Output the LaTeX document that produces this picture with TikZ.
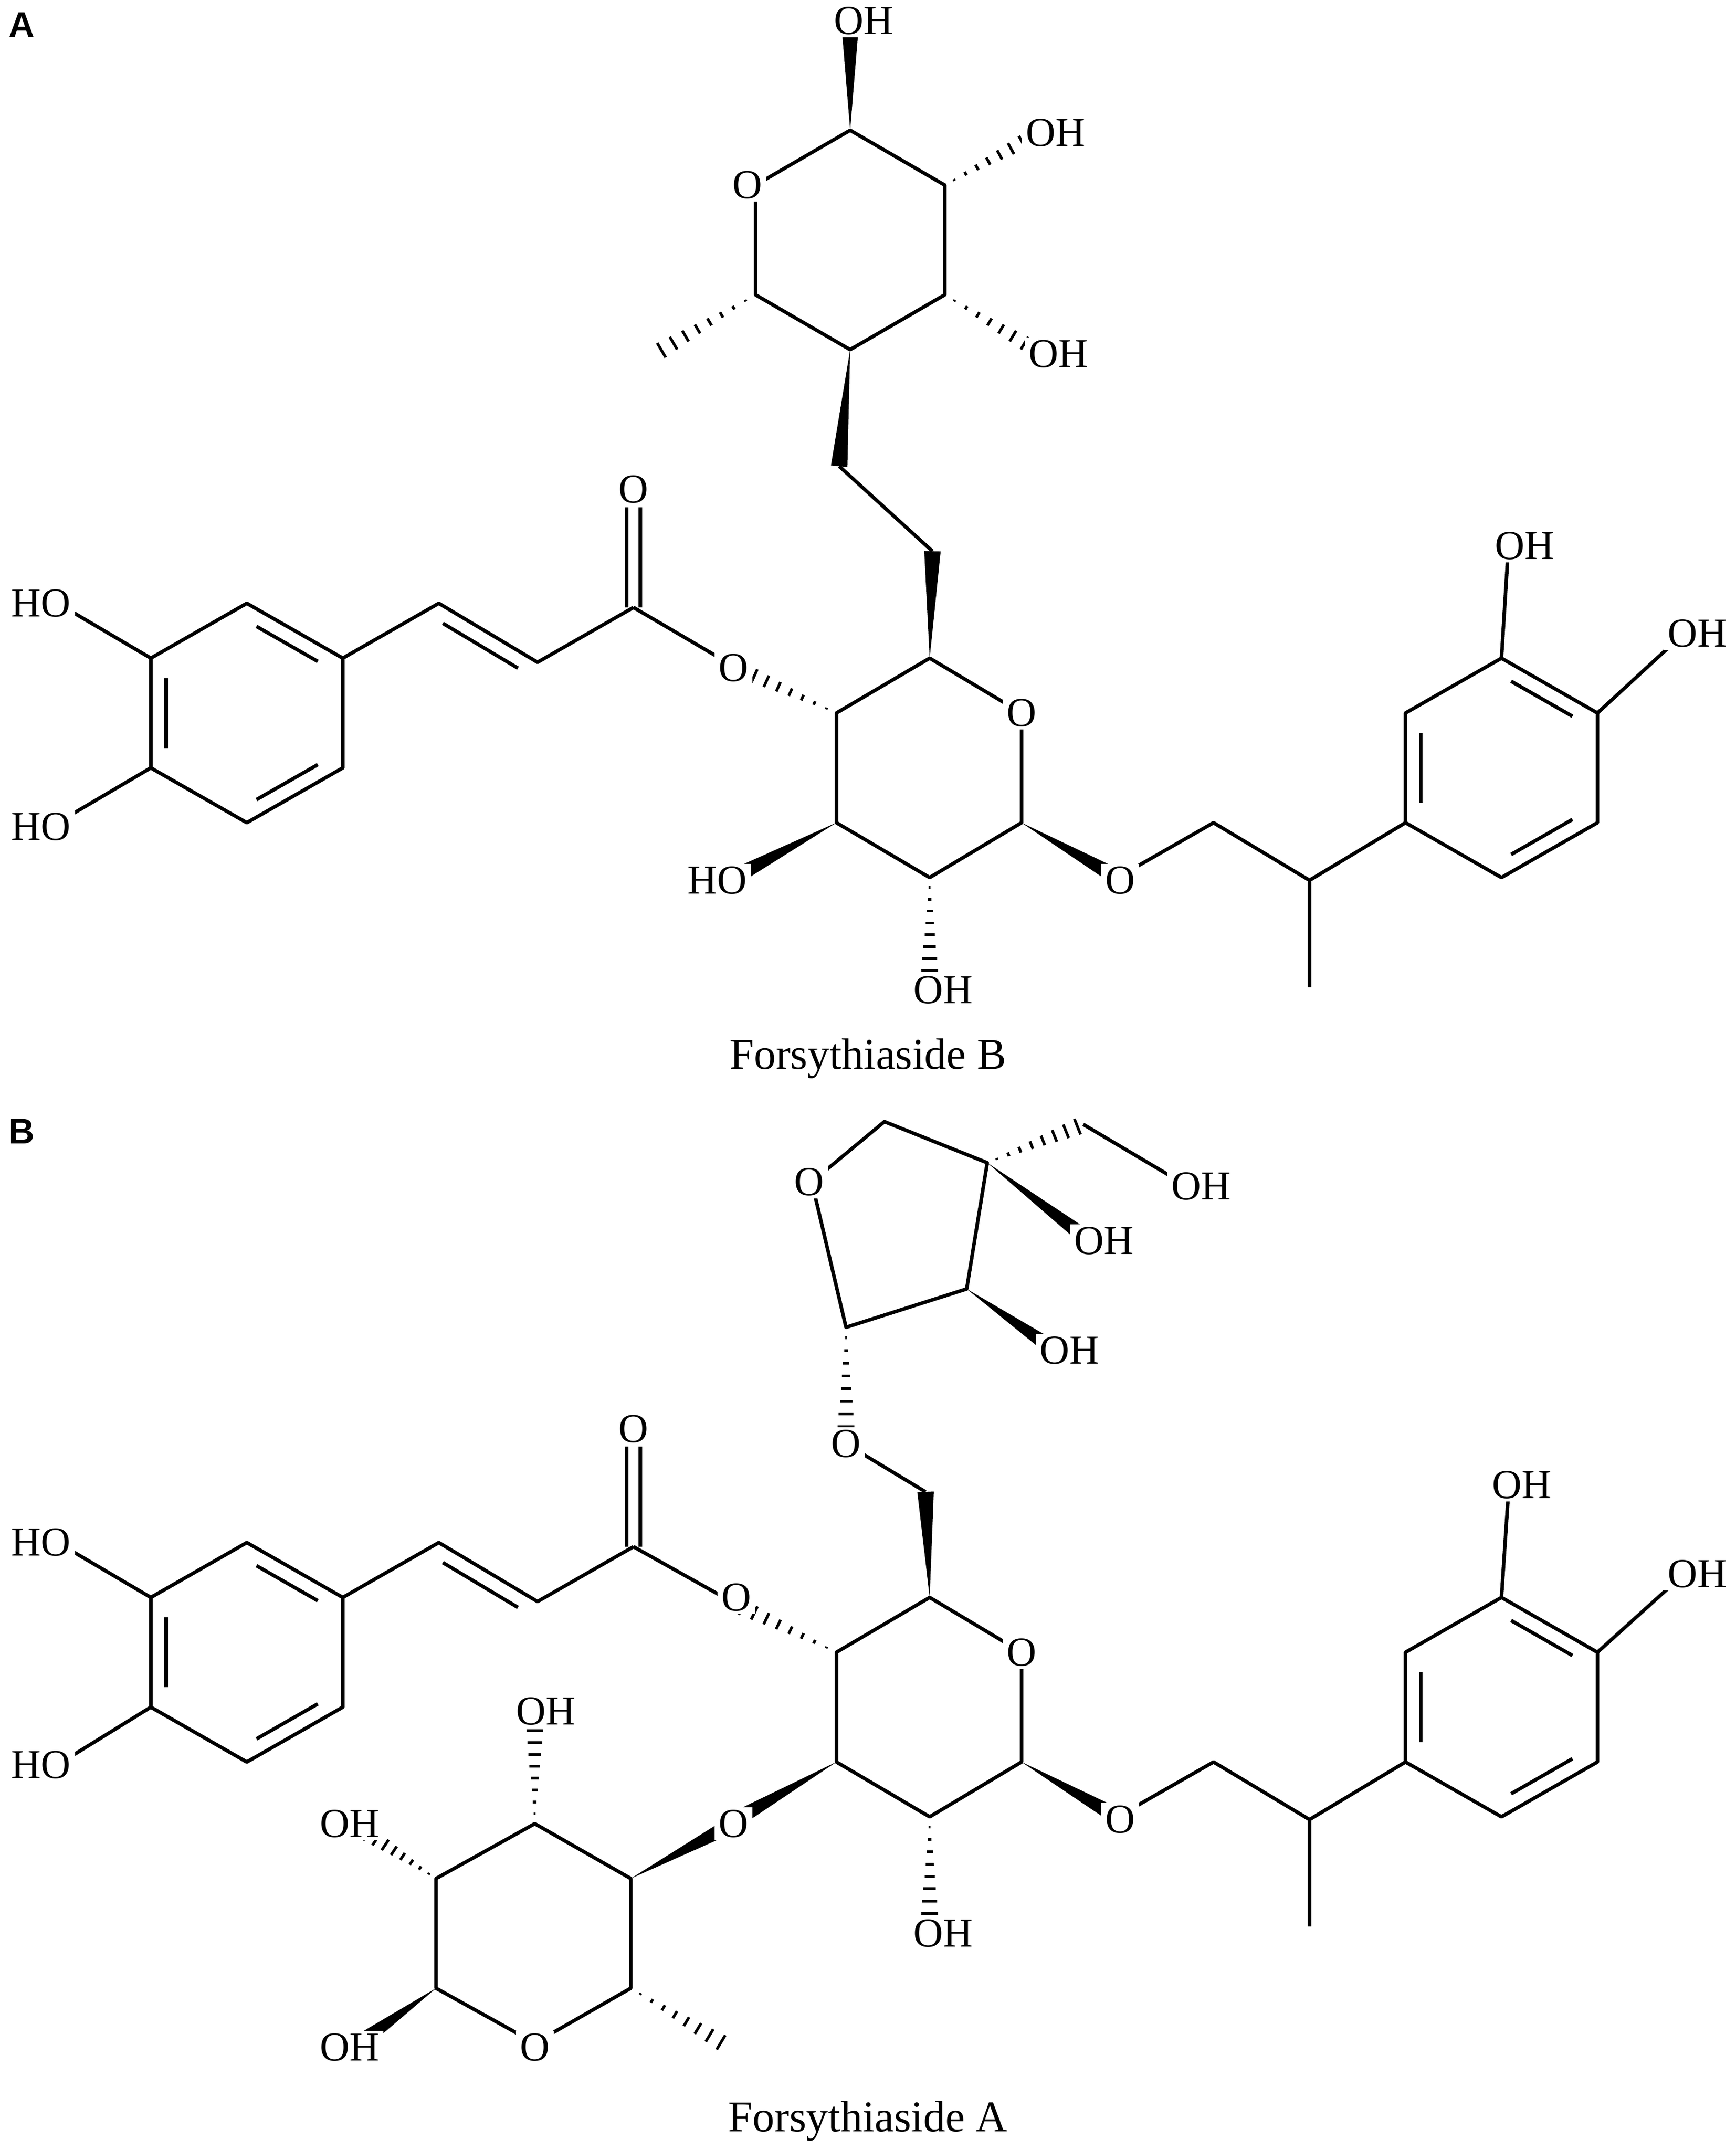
\documentclass[tikz,border=0pt]{standalone}
\usepackage{fontspec}
\setmainfont{Liberation Serif}
\newfontfamily\lsans{Liberation Sans}
\usetikzlibrary{calc}
\newcommand\wdg[2]{\fill ($#1$) -- ($#2!6pt!90:#1$) -- ($#2!6pt!-90:#1$) -- cycle;}
\newcommand\hsh[2]{\foreach \t in {0.1,0.22,0.34,0.46,0.58,0.7,0.82,0.94}{\pgfmathsetmacro\w{\t*6.5}\draw[line width=2pt] ($#1!\t!#2!\w pt!90:#2$) -- ($#1!\t!#2!\w pt!-90:#2$);}}
\newcommand\dbin[3]{\draw ($($#1!0.16!#3$)!0.12!($#2!0.16!#3$)$) -- ($($#2!0.16!#3$)!0.12!($#1!0.16!#3$)$);}
\tikzset{lbl/.style={fill=white,inner xsep=3pt,inner ysep=2pt,font=\fontsize{30}{30}\selectfont},
captext/.style={inner sep=0pt,font=\fontsize{32}{32}\selectfont},
pan/.style={inner sep=0pt,font=\lsans\bfseries\fontsize{26}{26}\selectfont}}
\begin{document}
\begin{tikzpicture}[x=1pt,y=-1pt,line width=2.6pt,line join=round]
\useasboundingbox (0,0) rectangle (1266,1568);
% ===== A =====
\draw (551,135)--(620,95)--(689,135)--(689,215)--(620,255)--(551,215)--cycle;
\wdg{(620,95)}{(620,22)}
\hsh{(689,135)}{(758,97)}
\hsh{(689,215)}{(760,258)}
\hsh{(551,215)}{(478,258)}
\wdg{(620,255)}{(612,340)}
\draw (612,340)--(680,402);
\wdg{(678,480)}{(680,402)}
\draw (678,480)--(745,520)--(745,600)--(678,640)--(610,600)--(610,520)--cycle;
\hsh{(610,520)}{(537,487)}
\wdg{(610,600)}{(535,640)}
\hsh{(678,640)}{(678,712)}
\wdg{(745,600)}{(815,640)}
\draw (815,640)--(885,600)--(955,642)--(1025,600) (955,642)--(955,720);
\draw (1025,600)--(1025,520)--(1095,480)--(1165,520)--(1165,600)--(1095,640)--cycle;
\draw (1095,480)--(1100,400) (1165,520)--(1228,462);
\dbin{(1025,600)}{(1025,520)}{(1095,560)}
\dbin{(1095,480)}{(1165,520)}{(1095,560)}
\dbin{(1165,600)}{(1095,640)}{(1095,560)}
\draw (537,487)--(462,443) (457,443)--(457,370) (467,443)--(467,370) (462,443)--(392,483)--(320,440)--(250,480);
\draw ($(392,483)!0.12!(320,440)!11pt!90:(320,440)$) -- ($(320,440)!0.12!(392,483)!11pt!-90:(392,483)$);
\draw (250,480)--(250,560)--(180,600)--(110,560)--(110,480)--(180,440)--cycle;
\draw (110,480)--(42,440) (110,560)--(42,600);
\dbin{(180,440)}{(250,480)}{(180,520)}
\dbin{(250,560)}{(180,600)}{(180,520)}
\dbin{(110,560)}{(110,480)}{(180,520)}
\node[lbl] (a1) at (630,15) {OH};
\node[lbl] (a2) at (770,97) {OH};
\node[lbl] (a3) at (772,258) {OH};
\node[lbl] (a4) at (545,135) {O};
\node[lbl] (a5) at (462,357) {O};
\node[lbl] (a6) at (30,440) {HO};
\node[lbl] (a7) at (30,603) {HO};
\node[lbl] (a8) at (535,487) {O};
\node[lbl] (a9) at (745,520) {O};
\node[lbl] (a10) at (523,642) {HO};
\node[lbl] (a11) at (688,722) {OH};
\node[lbl] (a12) at (817,642) {O};
\node[lbl] (a13) at (1112,398) {OH};
\node[lbl] (a14) at (1238,462) {OH};
\node[captext] (capB) at (633,772) {Forsythiaside B};
\node[pan] (pA) at (16,18) {A};
% ===== B =====
\draw (678,1165)--(745,1205)--(745,1285)--(678,1325)--(610,1285)--(610,1205)--cycle;
\hsh{(610,1205)}{(537,1170)}
\wdg{(610,1285)}{(535,1328)}
\hsh{(678,1325)}{(678,1400)}
\wdg{(745,1285)}{(815,1325)}
\wdg{(678,1165)}{(675,1088)}
\draw (675,1088)--(617,1053);
\hsh{(617,968)}{(617,1045)}
\draw (617,968)--(592,862)--(645,818)--(720,848)--(705,940)--cycle;
\hsh{(720,848)}{(790,820)}
\draw (790,820)--(866,865);
\wdg{(720,848)}{(795,905)}
\wdg{(705,940)}{(770,985)}
\draw (815,1325)--(885,1285)--(955,1327)--(1025,1285) (955,1327)--(955,1405);
\draw (1025,1285)--(1025,1205)--(1095,1165)--(1165,1205)--(1165,1285)--(1095,1325)--cycle;
\draw (1095,1165)--(1100,1090) (1165,1205)--(1228,1148);
\dbin{(1025,1285)}{(1025,1205)}{(1095,1245)}
\dbin{(1095,1165)}{(1165,1205)}{(1095,1245)}
\dbin{(1165,1285)}{(1095,1325)}{(1095,1245)}
\draw (537,1170)--(462,1128) (457,1128)--(457,1055) (467,1128)--(467,1055) (462,1128)--(392,1168)--(320,1125)--(250,1165);
\draw ($(392,1168)!0.12!(320,1125)!11pt!90:(320,1125)$) -- ($(320,1125)!0.12!(392,1168)!11pt!-90:(392,1168)$);
\draw (250,1165)--(250,1245)--(180,1285)--(110,1245)--(110,1165)--(180,1125)--cycle;
\draw (110,1165)--(42,1125) (110,1245)--(42,1287);
\dbin{(180,1125)}{(250,1165)}{(180,1205)}
\dbin{(250,1245)}{(180,1285)}{(180,1205)}
\dbin{(110,1245)}{(110,1165)}{(180,1205)}
\draw (460,1370)--(390,1330)--(318,1370)--(318,1450)--(390,1490)--(460,1450)--cycle;
\wdg{(460,1370)}{(535,1330)}
\hsh{(390,1330)}{(390,1258)}
\hsh{(318,1370)}{(265,1335)}
\wdg{(318,1450)}{(262,1490)}
\hsh{(460,1450)}{(530,1492)}
\node[lbl] (b1) at (590,862) {O};
\node[lbl] (b2) at (876,865) {OH};
\node[lbl] (b3) at (805,905) {OH};
\node[lbl] (b4) at (780,985) {OH};
\node[lbl] (b5) at (617,1053) {O};
\node[lbl] (b6) at (462,1042) {O};
\node[lbl] (b7) at (30,1125) {HO};
\node[lbl] (b8) at (1110,1083) {OH};
\node[lbl] (b9) at (1238,1148) {OH};
\node[lbl] (b10) at (537,1165) {O};
\node[lbl] (b11) at (745,1205) {O};
\node[lbl] (b12) at (30,1287) {HO};
\node[lbl] (b13) at (398,1248) {OH};
\node[lbl] (b14) at (535,1330) {O};
\node[lbl] (b15) at (817,1327) {O};
\node[lbl] (b16) at (255,1330) {OH};
\node[lbl] (b17) at (688,1410) {OH};
\node[lbl] (b18) at (255,1493) {OH};
\node[lbl] (b19) at (390,1493) {O};
\node[captext] (capA) at (633,1547) {Forsythiaside A};
\node[pan] (pB) at (16,825) {B};
\end{tikzpicture}
\end{document}
